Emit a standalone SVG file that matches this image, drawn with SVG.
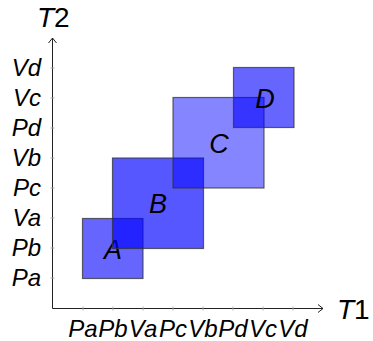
<svg xmlns="http://www.w3.org/2000/svg" width="373" height="341" viewBox="0 0 373 341">
<style>
.lbl{font-family:"Liberation Sans","DejaVu Sans",sans-serif;font-style:italic;fill:#000}
.tk{font-size:24px}
.ax{font-size:28px}
.nd{font-size:27px;text-anchor:middle}
.up{font-style:normal}
.tick{stroke:#aaa;stroke-width:1}
.box{stroke:#333;stroke-opacity:0.75;stroke-width:1.2}
</style>
<rect width="373" height="341" fill="#fff"/>
<g id="axes" fill="none" stroke="#222" stroke-width="1">
<line x1="52.5" y1="308.5" x2="52.5" y2="38"/>
<line x1="52.5" y1="308.5" x2="323" y2="308.5"/>
<polyline points="48.5,43 52.5,38 56.5,43"/>
<polyline points="318,304.5 323,308.5 318,312.5"/>
</g>
<g id="ticks">
<line class="tick" x1="50.5" x2="54.5" y1="68" y2="68"/>
<line class="tick" x1="50.5" x2="54.5" y1="98" y2="98"/>
<line class="tick" x1="50.5" x2="54.5" y1="128" y2="128"/>
<line class="tick" x1="50.5" x2="54.5" y1="158" y2="158"/>
<line class="tick" x1="50.5" x2="54.5" y1="188" y2="188"/>
<line class="tick" x1="50.5" x2="54.5" y1="218" y2="218"/>
<line class="tick" x1="50.5" x2="54.5" y1="248" y2="248"/>
<line class="tick" x1="50.5" x2="54.5" y1="278" y2="278"/>
<line class="tick" y1="306.5" y2="310.5" x1="83" x2="83"/>
<line class="tick" y1="306.5" y2="310.5" x1="113" x2="113"/>
<line class="tick" y1="306.5" y2="310.5" x1="143" x2="143"/>
<line class="tick" y1="306.5" y2="310.5" x1="173" x2="173"/>
<line class="tick" y1="306.5" y2="310.5" x1="203" x2="203"/>
<line class="tick" y1="306.5" y2="310.5" x1="233" x2="233"/>
<line class="tick" y1="306.5" y2="310.5" x1="263" x2="263"/>
<line class="tick" y1="306.5" y2="310.5" x1="293" x2="293"/>
</g>
<g id="ylabels" class="lbl tk" text-anchor="end">
<text x="41" y="76">Vd</text>
<text x="41" y="106">Vc</text>
<text x="41" y="136">Pd</text>
<text x="41" y="166">Vb</text>
<text x="41" y="196">Pc</text>
<text x="41" y="226">Va</text>
<text x="41" y="256">Pb</text>
<text x="41" y="286">Pa</text>
</g>
<g id="xlabels" class="lbl tk" text-anchor="middle">
<text x="83" y="337">Pa</text>
<text x="113" y="337">Pb</text>
<text x="143" y="337">Va</text>
<text x="173" y="337">Pc</text>
<text x="203" y="337">Vb</text>
<text x="233" y="337">Pd</text>
<text x="263" y="337">Vc</text>
<text x="293" y="337">Vd</text>
</g>
<text class="lbl ax" x="37" y="27">T<tspan class="up">2</tspan></text>
<text class="lbl ax" x="337" y="319">T<tspan class="up">1</tspan></text>
<g id="A"><rect class="box" x="82.5" y="218.5" width="60.5" height="60" fill="#0000ff" fill-opacity="0.6"/><text class="lbl nd" x="113" y="259">A</text></g>
<g id="B"><rect class="box" x="112.5" y="158" width="91" height="90.5" fill="#0000ff" fill-opacity="0.66"/><text class="lbl nd" x="158" y="213">B</text></g>
<g id="C"><rect class="box" x="173" y="97.5" width="91" height="90.5" fill="#0000ff" fill-opacity="0.48"/><text class="lbl nd" x="219" y="153">C</text></g>
<g id="D"><rect class="box" x="233.5" y="67.5" width="60.5" height="60" fill="#0000ff" fill-opacity="0.6"/><text class="lbl nd" x="265" y="108">D</text></g>
</svg>
